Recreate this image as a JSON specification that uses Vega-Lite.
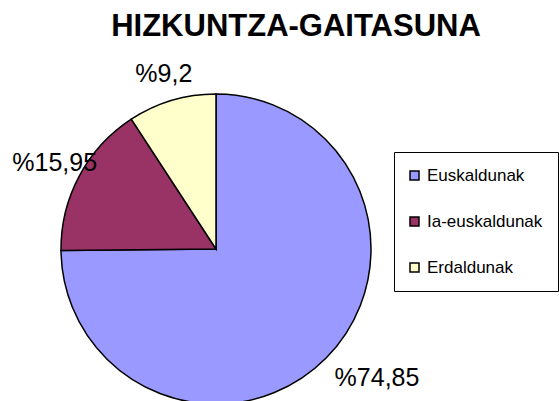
{
  "$schema": "https://vega.github.io/schema/vega-lite/v6.json",
  "autosize": "none",
  "width": 310,
  "height": 304,
  "padding": {"left": 61, "top": 97, "right": 188, "bottom": 0},
  "background": "white",
  "title": {
    "text": "HIZKUNTZA-GAITASUNA",
    "font": "Liberation Sans",
    "fontSize": 31,
    "fontWeight": "bold",
    "color": "black",
    "anchor": "middle",
    "frame": "group",
    "dx": 80,
    "offset": 19
  },
  "data": {
    "values": [
      {"k": "Euskaldunak", "v": 74.85, "label": "%74,85", "o": 1},
      {"k": "Ia-euskaldunak", "v": 15.95, "label": "%15,95", "o": 2},
      {"k": "Erdaldunak", "v": 9.2, "label": "%9,2", "o": 3}
    ]
  },
  "encoding": {
    "theta": {"field": "v", "type": "quantitative", "stack": true},
    "order": {"field": "o", "type": "quantitative"}
  },
  "layer": [
    {
      "mark": {"type": "arc", "radius": 155, "stroke": "black", "strokeWidth": 1.5},
      "encoding": {
        "color": {
          "field": "k",
          "type": "nominal",
          "scale": {"domain": ["Euskaldunak", "Ia-euskaldunak", "Erdaldunak"], "range": ["#9999FF", "#993366", "#FFFFCC"]},
          "legend": {
            "orient": "none",
            "legendX": 333,
            "legendY": 55,
            "title": null,
            "symbolType": "square",
            "symbolSize": 81,
            "symbolStrokeColor": "black",
            "symbolStrokeWidth": 1.5,
            "symbolOffset": -3,
            "labelFont": "Liberation Sans",
            "labelFontSize": 17,
            "labelColor": "black",
            "labelOffset": 4,
            "padding": 15,
            "rowPadding": 28,
            "strokeColor": "black",
            "fillColor": "white"
          }
        }
      }
    },
    {
      "mark": {
        "type": "text",
        "radius": 183,
        "font": "Liberation Sans",
        "fontSize": 25,
        "align": "center",
        "baseline": "middle",
        "dx": {"expr": "datum.k === 'Euskaldunak' ? 31 : 0"}
      },
      "encoding": {
        "detail": {"field": "k", "type": "nominal"},
        "text": {"field": "label", "type": "nominal"},
        "color": {"value": "black"}
      }
    }
  ],
  "config": {"view": {"stroke": null}}
}
